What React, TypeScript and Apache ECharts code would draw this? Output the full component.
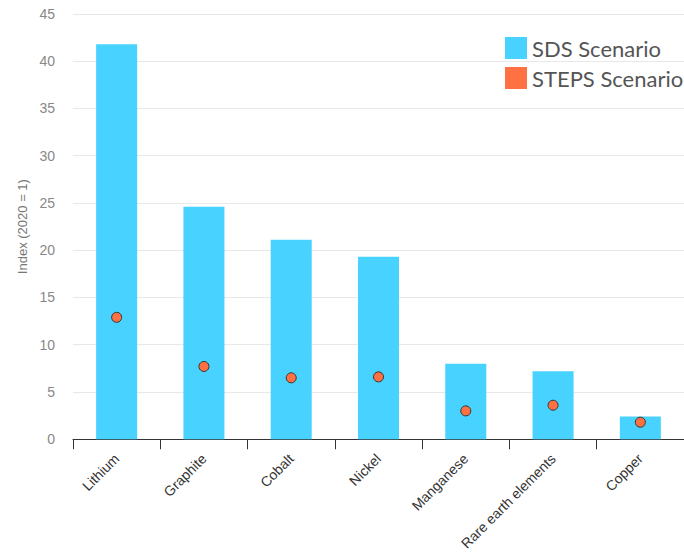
import React, { useEffect, useRef } from "react";
import * as echarts from "echarts";

const minerals = ["Lithium", "Graphite", "Cobalt", "Nickel", "Manganese", "Rare earth elements", "Copper"];
const sdsValues = [41.8, 24.6, 21.1, 19.3, 8.0, 7.2, 2.4];
const stepsValues = [12.9, 7.7, 6.5, 6.6, 3.0, 3.6, 1.8];
const yTicks = { min: 0, max: 45, interval: 5 };

export default function App() {
  const ref = useRef<HTMLDivElement>(null);

  useEffect(() => {
    if (!ref.current) return;
    const chart = echarts.init(ref.current, undefined, { renderer: "svg" });
    chart.setOption({
      animation: false,
      backgroundColor: "#ffffff",
      grid: { left: 73, right: 0, top: 14, bottom: 109, containLabel: false },
      legend: {
        orient: "vertical",
        left: 505,
        top: 37,
        padding: 0,
        itemWidth: 22,
        itemHeight: 22,
        itemGap: 8,
        textStyle: { fontFamily: "Lato", fontSize: 22, color: "#555555" },
        data: [
          { name: "SDS Scenario", icon: "rect" },
          { name: "STEPS Scenario", icon: "rect", itemStyle: { borderWidth: 0 } },
        ],
      },
      xAxis: {
        type: "category",
        data: minerals,
        boundaryGap: true,
        axisLine: { show: true, lineStyle: { color: "#333333", width: 1 } },
        axisTick: { show: true, length: 10, lineStyle: { color: "#333333" } },
        axisLabel: {
          rotate: 45,
          interval: 0,
          fontFamily: "Liberation Sans",
          fontSize: 14,
          color: "#333333",
          margin: 17,
        },
      },
      yAxis: {
        type: "value",
        min: yTicks.min,
        max: yTicks.max,
        interval: yTicks.interval,
        name: "Index (2020 = 1)",
        nameLocation: "middle",
        nameGap: 39,
        nameTextStyle: { fontFamily: "Liberation Sans", fontSize: 13, color: "#777777" },
        axisLine: { show: false },
        axisTick: { show: false },
        axisLabel: { fontFamily: "Liberation Sans", fontSize: 14, color: "#888888", margin: 18 },
        splitLine: { lineStyle: { color: "#e8e8e8", width: 1 } },
      },
      series: [
        {
          name: "SDS Scenario",
          type: "bar",
          data: sdsValues,
          barWidth: "47%",
          itemStyle: { color: "#48d2ff" },
        },
        {
          name: "STEPS Scenario",
          type: "scatter",
          data: stepsValues,
          symbol: "circle",
          symbolSize: 10,
          itemStyle: { color: "#ff7043", opacity: 1, borderColor: "#333333", borderWidth: 1 },
          z: 3,
        },
      ],
    });
    return () => chart.dispose();
  }, []);

  return <div ref={ref} style={{ position: "fixed", left: 0, top: 0, width: 684, height: 553 }} />;
}
